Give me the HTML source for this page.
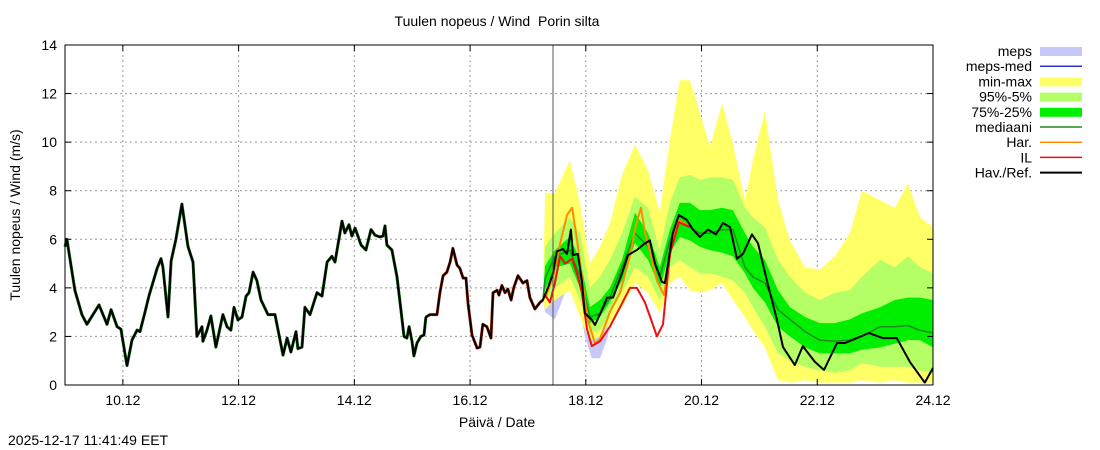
<!DOCTYPE html>
<html><head><meta charset="utf-8"><style>
body{margin:0;background:#fff;}
svg{display:block;font-family:"Liberation Sans",sans-serif;}
</style></head><body>
<svg id="chart" width="1100" height="450" viewBox="0 0 1100 450" xmlns="http://www.w3.org/2000/svg">
<text x="497" y="26" font-size="14" text-anchor="middle">Tuulen nopeus / Wind&#160; Porin silta</text>
<text x="20" y="215" font-size="14" text-anchor="middle" transform="rotate(-90 20 215)">Tuulen nopeus / Wind (m/s)</text>
<text x="497" y="427" font-size="14" text-anchor="middle">Päivä / Date</text>
<text x="8" y="445" font-size="14">2025-12-17 11:41:49 EET</text>
<g id="grid"></g><g id="bands"></g><g id="lines"></g><g id="axes"></g><g id="legend"></g>
</svg>
<script>
const yTicks=[0,2,4,6,8,10,12,14];
const xTickLabels=["10.12","12.12","14.12","16.12","18.12","20.12","22.12","24.12"];
const xTickHours=[24,72,120,168,216,264,312,360];
const obsH=[0,0.8,4.1,7.0,9.1,11.6,14.1,17.4,19.1,21.6,23.2,25.7,27.8,29.9,31.1,33.2,34.8,38.2,39.8,40.6,42.7,44.0,46.0,48.5,51.0,53.1,54.7,56.8,57.2,58.9,60.5,62.6,65.5,67.2,68.8,70.1,71.7,73.4,75.1,76.3,78.0,79.6,81.3,84.2,87.1,90.4,92.1,93.7,95.8,96.6,98.3,99.5,101.6,104.5,106.6,108.7,110.7,112.0,114.9,116.1,117.8,119.0,120.3,122.8,124.8,126.9,128.6,130.6,131.9,132.7,133.5,135.6,137.7,139.3,140.6,141.8,142.7,143.9,144.7,146.0,147.6,148.9,149.7,151.4,154.3,155.5,156.8,158.4,159.7,160.9,162.6,163.8,165.1,166.3,167.1,168.8,170.9,172.1,173.3,175.0,176.7,177.5,179.2,180.0,181.2,182.5,183.7,185.0,186.2,187.9,189.9,191.6,192.8,194.9,197.0,198.2,200.3,202.4,204.0,206.5,208.2,209.8,210.7,212.7,214.4,215.6,218.5,219.8,222.7,224.8,227.3,231.0,233.5,237.2,240.1,242.6,244.7,247.6,248.8,250.1,252.1,254.6,257.9,260.4,263.3,266.7,270.0,272.9,275.8,278.7,281.2,284.9,287.4,291.1,295.3,297.8,302.7,306.0,311.0,314.8,320.2,323.5,327.6,333.4,339.2,345.0,350.4,356.6,360.0];
const obsV=[5.7,6.0,3.9,2.9,2.5,2.9,3.3,2.5,3.1,2.4,2.3,0.8,1.85,2.26,2.2,3.0,3.66,4.8,5.2,4.86,2.8,5.1,6.0,7.45,5.7,5.06,2.0,2.4,1.8,2.26,2.84,1.56,2.9,2.4,2.26,3.2,2.68,2.8,3.66,3.8,4.65,4.3,3.5,2.9,2.9,1.23,1.93,1.36,2.2,1.5,1.56,3.2,2.9,3.8,3.66,5.06,5.3,5.06,6.75,6.26,6.6,6.13,6.46,5.76,5.56,6.4,6.17,6.1,6.13,6.55,5.76,5.56,4.45,3.1,2.0,1.93,2.4,1.8,1.2,1.73,2.0,2.06,2.8,2.9,2.9,3.8,4.5,4.65,5.06,5.63,4.94,4.8,4.4,4.4,3.4,2.06,1.52,1.56,2.5,2.4,1.93,3.8,3.9,3.7,4.1,3.8,3.95,3.5,4.03,4.5,4.2,4.3,3.6,3.13,3.4,3.5,4.0,4.6,5.5,5.6,5.4,6.4,5.35,5.4,4.3,2.96,2.68,2.47,3.1,3.6,3.6,4.6,5.35,5.56,5.8,5.96,5.0,4.24,4.2,5.0,6.26,7.0,6.8,6.4,6.1,6.4,6.2,6.67,6.5,5.2,5.4,6.2,5.84,4.3,2.68,1.56,0.82,1.6,0.95,0.62,1.73,1.73,1.9,2.14,1.93,1.93,0.95,0.1,0.7];
const fcH=[198.2,199.1,203.2,209.4,213.6,217.7,221.9,226.0,231.0,236.4,241.8,246.7,250.9,255.0,259.2,263.3,267.5,272.5,277.0,282.0,285.3,290.3,295.7,300.7,306.9,313.1,319.3,325.5,330.5,338.0,344.2,349.6,354.6,360.0];
const fcMax=[3.5,7.9,7.9,9.25,7.5,5.0,5.7,6.65,8.65,9.9,8.85,7.1,10.1,12.55,12.55,11.2,9.8,11.6,9.95,7.6,9.25,11.3,7.6,5.95,4.85,4.75,5.3,6.25,8.0,7.6,7.3,8.3,6.9,6.5];
const fcP95=[3.5,5.7,6.25,6.9,6.25,4.0,4.45,5.15,6.25,7.75,7.3,5.55,7.5,8.55,8.65,8.45,8.55,8.55,8.45,7.3,6.9,6.5,5.15,4.45,3.8,3.5,3.8,3.9,4.45,5.15,4.85,5.3,4.85,4.6];
const fcP75=[3.5,4.9,5.55,6.1,5.15,3.2,3.5,4.0,5.15,7.1,6.25,4.85,6.4,7.5,7.5,7.2,7.2,7.3,7.2,6.25,5.7,5.15,3.9,3.2,2.8,2.55,2.55,2.7,2.95,3.2,3.5,3.6,3.6,3.5];
const fcMed=[3.5,4.4,5.3,5.55,4.45,2.8,2.95,3.6,4.85,6.25,5.7,4.45,5.95,6.8,6.5,6.25,6.25,6.4,6.4,4.85,4.45,4.2,3.1,2.7,2.2,1.85,1.8,1.85,2.0,2.4,2.4,2.45,2.25,2.15];
const fcP25=[3.5,3.9,4.85,5.0,4.0,2.55,2.8,3.4,4.3,5.85,5.15,4.0,5.45,6.1,5.95,5.7,5.55,5.45,5.3,4.6,4.0,3.4,2.4,2.0,1.55,1.3,1.3,1.3,1.45,1.55,1.7,1.85,1.85,1.55];
const fcP5=[3.5,3.5,4.0,4.45,3.5,2.15,2.25,2.95,3.8,4.85,4.45,3.5,4.85,5.15,4.85,4.6,4.6,4.45,4.3,3.8,3.2,2.4,1.3,1.0,0.75,0.6,0.5,0.6,0.9,0.75,0.75,0.75,0.6,0.5];
const fcMin=[3.5,3.1,3.5,3.9,2.8,1.8,2.0,2.55,3.2,4.2,3.8,2.95,4.2,4.45,3.9,3.8,3.9,4.2,3.5,2.8,2.25,1.55,0.2,0.1,0.2,0.1,0.1,0.1,0.2,0.1,0.2,0.1,0.1,0.1];
const mepsH=[198.2,199.1,203.2,207.4,211.5,215.6,218.5,221.9,225.2];
const mepsLow=[3.5,3.0,2.7,3.8,4.5,2.0,1.1,1.1,2.0];
const mepsHigh=[3.5,4.5,6.5,7.0,7.8,4.0,3.0,3.0,3.5];
const harH=[199.1,202.4,205.3,208.2,210.3,212.3,214.4,216.5,219.8,221.9,226.0,230.2,234.3,236.8,238.9,240.5,242.6,245.5,248.4,251.7,254.6,259.2];
const harV=[3.6,4.4,5.8,7.0,7.3,6.0,4.5,2.8,1.7,1.9,3.0,3.8,5.3,6.6,7.3,6.3,5.5,4.3,3.7,5.8,6.8,6.5];
const ilH=[199.1,201.1,203.2,205.3,207.4,210.3,212.3,214.4,216.5,218.5,221.9,226.0,230.2,234.3,237.2,240.5,243.4,245.5,248.0,250.9,254.6,259.2];
const ilV=[3.7,3.4,4.2,5.3,5.0,5.2,4.6,3.8,2.3,1.6,1.8,2.4,3.2,4.0,4.0,3.4,2.6,2.0,2.5,5.4,6.7,6.5];
const nowHour=202.4;

const NS="http://www.w3.org/2000/svg";
const X0=65,X1=933,Y0=385,Y1=45;
const xs=h=>X0+(h/360)*(X1-X0);
const ys=v=>Y0-(v/14)*(Y0-Y1);
function mk(tag,attrs,parent){const e=document.createElementNS(NS,tag);for(const k in attrs)e.setAttribute(k,attrs[k]);parent.appendChild(e);return e;}
const grid=document.getElementById('grid'),bands=document.getElementById('bands'),lines=document.getElementById('lines'),axes=document.getElementById('axes'),legend=document.getElementById('legend');

yTicks.forEach(v=>{
  if(v>0&&v<14){const g=mk('line',{x1:X0,x2:X1,y1:ys(v),y2:ys(v),stroke:'#999','stroke-dasharray':'2,3','stroke-width':1},grid);
  
  }
  const t=mk('text',{x:57,y:ys(v)+5,'font-size':14,'text-anchor':'end'},axes);t.textContent=v;
  
  
  mk('line',{x1:X0,x2:X0+6,y1:ys(v),y2:ys(v),stroke:'#000'},axes);
  mk('line',{x1:X1-6,x2:X1,y1:ys(v),y2:ys(v),stroke:'#000'},axes);
});
xTickHours.forEach((h,i)=>{
  const x=xs(h);
  if(h<360){const g=mk('line',{x1:x,x2:x,y1:Y1,y2:Y0,stroke:'#999','stroke-dasharray':'2,3'},grid);
  
  }
  const t=mk('text',{x:x,y:405,'font-size':14,'text-anchor':'middle'},axes);t.textContent=xTickLabels[i];
  
  
  mk('line',{x1:x,x2:x,y1:Y0,y2:Y0-6,stroke:'#000'},axes);
  mk('line',{x1:x,x2:x,y1:Y1,y2:Y1+6,stroke:'#000'},axes);
});
function band(H,lo,hi,fill,name){
  let d='M'+H.map((h,i)=>xs(h).toFixed(1)+','+ys(hi[i]).toFixed(1)).join('L');
  for(let i=H.length-1;i>=0;i--)d+='L'+xs(H[i]).toFixed(1)+','+ys(lo[i]).toFixed(1);
  const p=mk('path',{d:d+'Z',fill:fill,stroke:'none'},bands);
  
  
}
function line(H,V,color,w,name){
  const d='M'+H.map((h,i)=>xs(h).toFixed(1)+','+ys(V[i]).toFixed(1)).join('L');
  const p=mk('path',{d:d,fill:'none',stroke:color,'stroke-width':w,'stroke-linejoin':'round'},lines);
  
  
}
band(mepsH,mepsLow,mepsHigh,'#c8c8f8','meps-band');
band(fcH,fcMin,fcMax,'#ffff66','min-max-band');
band(fcH,fcP5,fcP95,'#b4ff66','p95-p5-band');
band(fcH,fcP25,fcP75,'#00ee00','p75-p25-band');
line(fcH,fcMed,'#228b22',1.5,'median-line');
const gH=obsH.filter(h=>h<=150),gV=obsV.slice(0,gH.length);
line(gH,gV,'#0a6a0a',3,'analysis-underlay');
const rS=gH.length-1,rH=obsH.slice(rS).filter(h=>h<=199),rV=obsV.slice(rS,rS+rH.length);
line(rH,rV,'#c83010',3,'il-history-underlay');
line(harH,harV,'#ff8c00',2,'har-line');
line(ilH,ilV,'#ee1010',2,'il-line');
line(obsH,obsV,'#000',2,'observed-line');
const nl=mk('line',{x1:xs(nowHour),x2:xs(nowHour),y1:Y1,y2:Y0,stroke:'#555',"stroke-width":1},axes);


const fr=mk('rect',{x:X0,y:Y1,width:X1-X0,height:Y0-Y1,fill:'none',stroke:'#000'},axes);



const legLabels=["meps","meps-med","min-max","95%-5%","75%-25%","mediaani","Har.","IL","Hav./Ref."];
const legColors=["#c8c8f8","#3030d0","#ffff66","#b4ff66","#00ee00","#228b22","#ff8c00","#ee1010","#000"];
const legIsBox=[1,0,1,1,1,0,0,0,0];
legLabels.forEach((lab,i)=>{
  const y=51+i*15.2;
  const t=mk('text',{x:1032,y:y+5,'font-size':14,'text-anchor':'end'},legend);t.textContent=lab;
  
  
  if(legIsBox[i])mk('rect',{x:1040,y:y-4,width:42,height:9,fill:legColors[i]},legend);
  else mk('line',{x1:1040,x2:1082,y1:y,y2:y,stroke:legColors[i],'stroke-width':i==8?2:1.5},legend);
});
</script>
</body></html>
